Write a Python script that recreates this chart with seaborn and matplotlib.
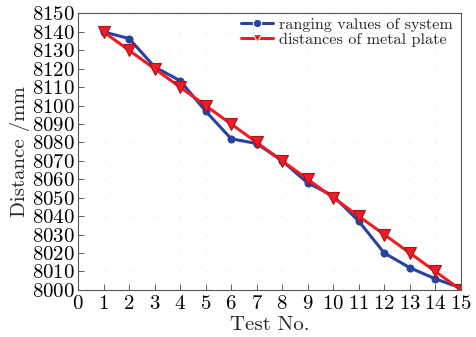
import seaborn as sns
import matplotlib.pyplot as plt
import pandas as pd

test_no = list(range(1, 16))
ranging = [8140, 8136.4, 8121, 8113.5, 8097, 8082, 8079.4, 8070, 8058, 8051,
           8037.3, 8020, 8012, 8006, 8001]
plate = [8140, 8130, 8120, 8110, 8100, 8090, 8080, 8070, 8060, 8050,
         8040, 8030, 8020, 8010, 8000]
names = ['ranging values of system', 'distances of metal plate']

df = pd.DataFrame({
    'x': test_no * 2,
    'y': ranging + plate,
    'series': [names[0]] * 15 + [names[1]] * 15,
})

sns.set_style('ticks')
plt.rcParams['font.family'] = ['cmr10', 'DejaVu Serif']
plt.rcParams['axes.formatter.use_mathtext'] = True

fig, ax = plt.subplots(figsize=(4.76, 3.37), dpi=100)
fig.subplots_adjust(left=0.164, right=0.968, top=0.96, bottom=0.14)

sns.lineplot(data=df, x='x', y='y', hue='series', style='series',
             palette={names[0]: '#2643a0', names[1]: '#ee1c24'},
             markers={names[0]: 'o', names[1]: 'v'},
             dashes=False, linewidth=2.2, markeredgewidth=0.8,
             markersize=6, ax=ax)
for line, ms, ec in zip(ax.lines[:2], [5, 8], ['#2643a0', '#b01018']):
    line.set_markersize(ms)
    line.set_markeredgecolor(ec)

ax.set_xlim(0, 15)
ax.set_ylim(8000, 8150)
ax.set_xticks(range(0, 16))
ax.set_yticks(range(8000, 8151, 10))
ax.tick_params(direction='in', length=4, width=0.6, labelsize=15,
               colors='#444444', labelcolor='black')
ax.tick_params(axis='x', pad=4)
ax.tick_params(axis='y', pad=2)
ax.grid(True, linestyle=(0, (1, 10)), linewidth=0.6, color='#e4e4e4')
for s in ax.spines.values():
    s.set_linewidth(0.8)
    s.set_color('#555555')

ax.set_xlabel('Test No.', fontsize=15, labelpad=2)
ax.set_ylabel('Distance /mm', fontsize=15, labelpad=2)

handles, labels = ax.get_legend_handles_labels()
for h in handles:
    h.set_markeredgewidth(0.8)
ax.legend(handles, labels, loc='upper right', bbox_to_anchor=(1.0, 1.015),
          frameon=False, fontsize=11.7, handlelength=2.0, handletextpad=0.35,
          borderaxespad=0.1, labelspacing=0.05)

fig.savefig('out.png', dpi=100)
